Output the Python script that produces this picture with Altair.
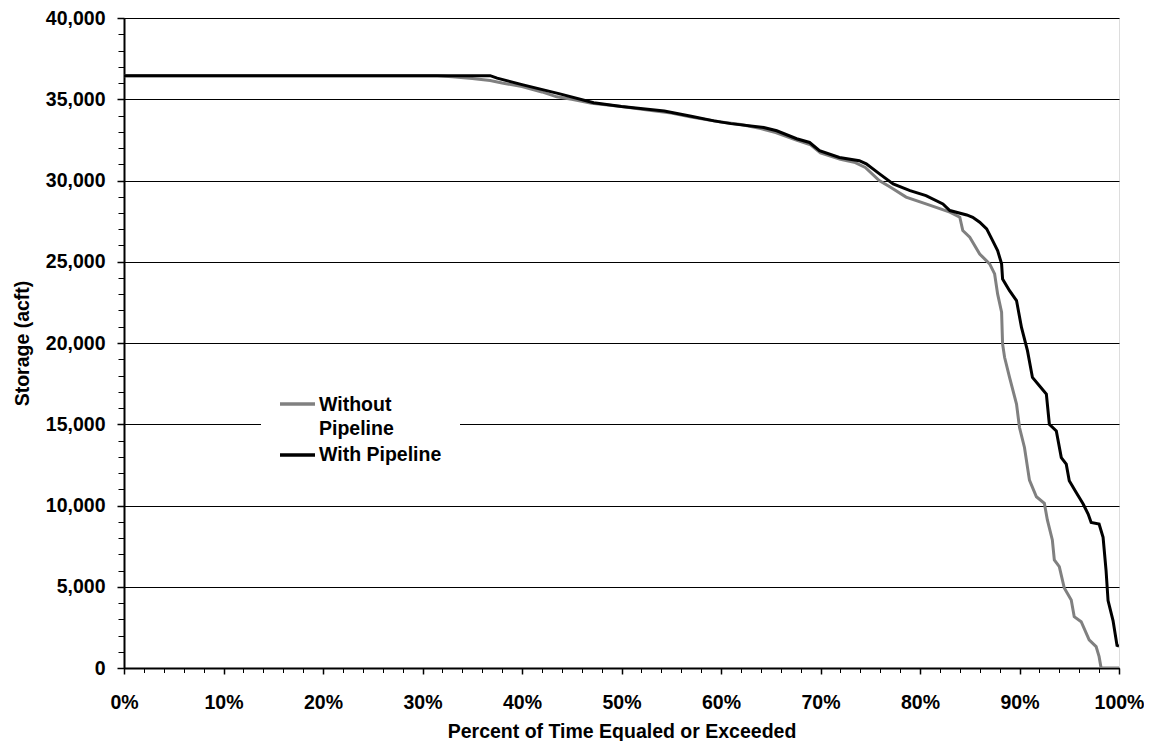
import altair as alt
import pandas as pd

# ---- data ----
without_pct = [0, 31.5, 33, 35, 36.8, 38, 40, 42, 43.5, 45, 47, 50, 53, 55, 57, 60, 62, 64,
               65.5, 67.5, 69, 70, 72, 73.5, 74.5, 75.9, 77, 78.6, 80.6, 83.0, 84.0, 84.3,
               85.0, 86.0, 87.0, 87.5, 87.8, 88.2, 88.3, 88.5, 89.0, 89.7, 90.0, 90.5, 91.0,
               91.7, 92.5, 92.8, 93.3, 93.5, 94.0, 94.5, 95.2, 95.5, 96.2, 97.0, 97.7, 98.0,
               98.2, 100]
without_storage = [36450, 36450, 36380, 36280, 36150, 36000, 35780, 35450, 35150, 35000,
                   34760, 34550, 34300, 34150, 33900, 33600, 33450, 33200, 32950, 32500,
                   32200, 31700, 31300, 31100, 30800, 30000, 29600, 28980, 28560, 28050,
                   27740, 26920, 26510, 25480, 24870, 24250, 23020, 21890, 19940, 19120,
                   17880, 16240, 14800, 13570, 11560, 10540, 10130, 9110, 7880, 6650, 6240,
                   4920, 4180, 3160, 2850, 1730, 1320, 700, 0, 0]

with_pct = [0, 36.8, 37.5, 40, 43.8, 47.2, 50, 54.3, 57, 59.3, 61, 64.3, 65.6, 67.6, 68.9,
            69.9, 71.9, 73.9, 74.6, 75.9, 77.3, 79.0, 80.6, 82.3, 83.0, 84.7, 85.3, 86.0,
            86.7, 87.3, 87.8, 88.2, 88.3, 89.0, 89.7, 90.2, 90.8, 91.3, 92.0, 92.7, 93.0,
            93.7, 94.2, 94.7, 95.0, 95.7, 96.4, 96.9, 97.2, 98.0, 98.4, 98.7, 98.9, 99.4,
            99.8, 100]
with_storage = [36450, 36450, 36300, 35900, 35330, 34790, 34550, 34280, 33950, 33670,
                33500, 33260, 33060, 32570, 32340, 31830, 31420, 31220, 31030, 30420,
                29790, 29380, 29070, 28560, 28150, 27880, 27740, 27430, 27020, 26300,
                25690, 24870, 23940, 23220, 22610, 20960, 19530, 17880, 17370, 16860,
                15000, 14590, 12950, 12540, 11520, 10800, 10090, 9470, 8960, 8860, 8040,
                6000, 4150, 2920, 1390, 1350]

series_names = ["Without Pipeline", "With Pipeline"]
series_colors = ["#808080", "#000000"]
legend_lines = ["Without\nPipeline", "With Pipeline"]

x_major = [i / 10 for i in range(11)]
x_minor = [i / 50 for i in range(51)]
y_major = [i * 5000 for i in range(9)]
y_minor = [i * 1000 for i in range(41)]

FONT = "Liberation Sans"
FS = 19.5

df_without = pd.DataFrame({"pct": [p / 100 for p in without_pct],
                           "storage": without_storage,
                           "series": series_names[0]})
df_with = pd.DataFrame({"pct": [p / 100 for p in with_pct],
                        "storage": with_storage,
                        "series": series_names[1]})

xscale = alt.Scale(domain=[0, 1], nice=False)
yscale = alt.Scale(domain=[0, 40000], nice=False)
color = alt.Color("series:N", scale=alt.Scale(domain=series_names, range=series_colors),
                  legend=None)

minor_x_axis = alt.Axis(orient="bottom", values=x_minor, labels=False, domain=False,
                        grid=False, ticks=True, tickSize=4.5, tickColor="black",
                        tickWidth=1, title=None)
minor_y_axis = alt.Axis(orient="left", values=y_minor, labels=False, domain=False,
                        grid=False, ticks=True, tickSize=6, tickColor="black",
                        tickWidth=1, title=None)

major_x_axis = alt.Axis(orient="bottom", values=x_major, format=".0%", grid=False,
                        domain=True, domainColor="black", domainWidth=2,
                        ticks=True, tickSize=6, tickColor="black", tickWidth=1.5,
                        labelFont=FONT, labelFontSize=FS, labelFontWeight="bold",
                        labelColor="black", labelPadding=19, labelFlush=False,
                        title="Percent of Time Equaled or Exceeded", titleFont=FONT,
                        titleFontSize=FS, titleFontWeight="bold", titleColor="black",
                        titlePadding=11)
major_y_axis = alt.Axis(orient="left", values=y_major, format=",d", grid=True,
                        gridColor="black", gridWidth=1, gridOpacity=1,
                        domain=True, domainColor="black", domainWidth=2,
                        ticks=True, tickSize=7, tickColor="black", tickWidth=1.5,
                        labelFont=FONT, labelFontSize=FS, labelFontWeight="bold",
                        labelColor="black", labelPadding=12, labelFlush=False,
                        title="Storage (acft)", titleFont=FONT,
                        titleFontSize=FS, titleFontWeight="bold", titleColor="black",
                        titlePadding=13)

gray_line = alt.Chart(df_without).mark_line(strokeWidth=3, clip=True).encode(
    x=alt.X("pct:Q", scale=xscale, axis=minor_x_axis),
    y=alt.Y("storage:Q", scale=yscale, axis=minor_y_axis),
    color=color,
)
black_line = alt.Chart(df_with).mark_line(strokeWidth=3, clip=True).encode(
    x=alt.X("pct:Q", scale=xscale, axis=major_x_axis),
    y=alt.Y("storage:Q", scale=yscale, axis=major_y_axis),
    color=color,
)

# ---- legend (drawn inside the plot) ----
leg_df = pd.DataFrame({"series": series_names, "label": legend_lines})
leg_bg = alt.Chart(leg_df.head(1)).mark_rect(color="white").encode(
    x=alt.value(137), x2=alt.value(336), y=alt.value(371), y2=alt.value(451))
leg_gray = alt.Chart(leg_df.iloc[[0]]).mark_rule(strokeWidth=3.5, color=series_colors[0]).encode(
    x=alt.value(156), x2=alt.value(191), y=alt.value(386))
leg_black = alt.Chart(leg_df.iloc[[1]]).mark_rule(strokeWidth=3.5, color=series_colors[1]).encode(
    x=alt.value(156), x2=alt.value(191), y=alt.value(437))
leg_text0 = alt.Chart(leg_df.iloc[[0]]).mark_text(
    align="left", baseline="middle", font=FONT, fontSize=FS, fontWeight="bold",
    color="black", lineBreak="\n", lineHeight=24).encode(
    text="label:N", x=alt.value(195), y=alt.value(387))
leg_text1 = alt.Chart(leg_df.iloc[[1]]).mark_text(
    align="left", baseline="middle", font=FONT, fontSize=FS, fontWeight="bold",
    color="black").encode(
    text="label:N", x=alt.value(195), y=alt.value(437))

chart = alt.layer(
    gray_line, black_line, leg_bg, leg_gray, leg_black, leg_text0, leg_text1
).resolve_axis(x="independent", y="independent").properties(
    width=995, height=650,
    autosize=alt.AutoSizeParams(type="none"),
    padding={"left": 116, "top": 10, "right": 25, "bottom": 73},
).configure_view(stroke="black", strokeWidth=1.5).configure(background="white")

chart.save("out.html", embed_options={"renderer": "svg", "actions": False})
